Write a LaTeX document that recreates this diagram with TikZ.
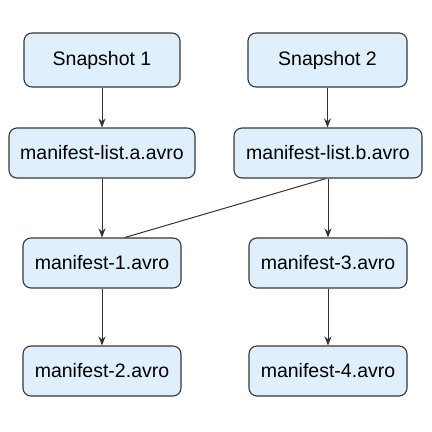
\documentclass[tikz,border=0pt]{standalone}
\usepackage{fontspec}
\setmainfont{Liberation Sans}
\usetikzlibrary{arrows.meta}
\definecolor{boxfill}{HTML}{E0EFFC}
\definecolor{boxline}{HTML}{383838}
\begin{document}
\begin{tikzpicture}[x=1pt,y=-1pt,
  box/.style={draw=boxline,fill=boxfill,rounded corners=8pt,line width=1.1pt,
    inner sep=0pt,font=\fontsize{19.5}{23}\selectfont},
  conn/.style={draw=black!80,line width=1pt},
  arr/.style={conn,-{Stealth[length=9pt,width=7pt]}}]
\useasboundingbox[fill=white] (0,0) rectangle (432,432);
\node[box,minimum width=156pt,minimum height=54pt] (s1) at (102,60) {Snapshot 1};
\node[box,minimum width=159pt,minimum height=54pt] (s2) at (327.5,60) {Snapshot 2};
\node[box,minimum width=186pt,minimum height=50pt] (la) at (102,153) {manifest-list.a.avro};
\node[box,minimum width=188pt,minimum height=50pt] (lb) at (328,153) {manifest-list.b.avro};
\node[box,minimum width=158pt,minimum height=50pt] (m1) at (102,263) {manifest-1.avro};
\node[box,minimum width=158pt,minimum height=50pt] (m3) at (328,263) {manifest-3.avro};
\node[box,minimum width=158pt,minimum height=50pt] (m2) at (102,371) {manifest-2.avro};
\node[box,minimum width=158pt,minimum height=50pt] (m4) at (328,371) {manifest-4.avro};
\draw[arr] (s1) -- (la);
\draw[arr] (s2) -- (s2|-lb.north);
\draw[arr] (la) -- (m1);
\draw[arr] (lb) -- (m3);
\draw[conn] ([xshift=-2pt]lb.south) -- ([xshift=23pt]m1.north);
\draw[arr] (m1) -- (m2);
\draw[arr] (m3) -- (m4);
\end{tikzpicture}
\end{document}
